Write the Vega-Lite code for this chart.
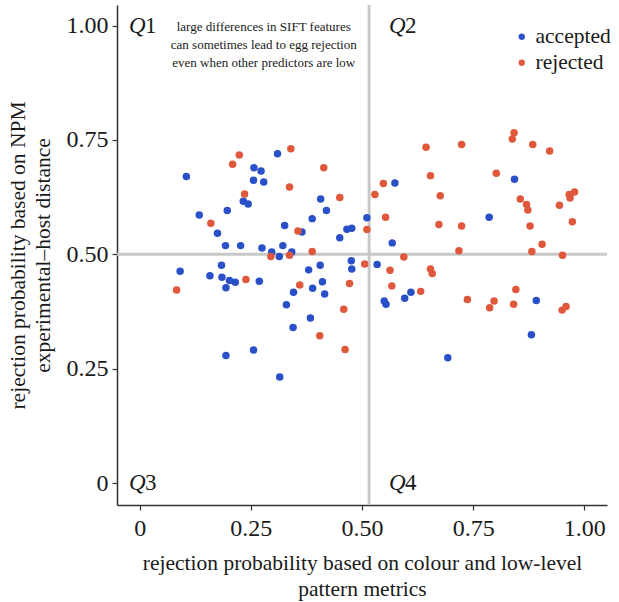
{
  "$schema": "https://vega.github.io/schema/vega-lite/v6.json",
  "autosize": "none",
  "width": 490,
  "height": 500,
  "padding": {"left": 117, "top": 5, "right": 12, "bottom": 97},
  "background": "white",
  "config": {
    "view": {"stroke": null},
    "font": "Liberation Serif",
    "axis": {"grid": false, "domainColor": "#333333", "domainWidth": 1.5, "tickColor": "#333333", "tickWidth": 1.2, "tickSize": 5, "labelFont": "Liberation Serif", "labelFontSize": 24, "labelColor": "#1a1a1a", "titleFont": "Liberation Serif", "titleFontSize": 21.5, "titleFontWeight": "normal", "titleColor": "#1a1a1a"}
  },
  "datasets": {
    "points": [
      {"x": 0.105, "y": 0.670, "status": "accepted"},
      {"x": 0.233, "y": 0.616, "status": "accepted"},
      {"x": 0.244, "y": 0.610, "status": "accepted"},
      {"x": 0.197, "y": 0.596, "status": "accepted"},
      {"x": 0.134, "y": 0.586, "status": "accepted"},
      {"x": 0.310, "y": 0.720, "status": "accepted"},
      {"x": 0.257, "y": 0.689, "status": "accepted"},
      {"x": 0.273, "y": 0.682, "status": "accepted"},
      {"x": 0.256, "y": 0.662, "status": "accepted"},
      {"x": 0.279, "y": 0.658, "status": "accepted"},
      {"x": 0.407, "y": 0.621, "status": "accepted"},
      {"x": 0.420, "y": 0.596, "status": "accepted"},
      {"x": 0.388, "y": 0.578, "status": "accepted"},
      {"x": 0.511, "y": 0.580, "status": "accepted"},
      {"x": 0.326, "y": 0.563, "status": "accepted"},
      {"x": 0.365, "y": 0.549, "status": "accepted"},
      {"x": 0.450, "y": 0.536, "status": "accepted"},
      {"x": 0.466, "y": 0.555, "status": "accepted"},
      {"x": 0.477, "y": 0.557, "status": "accepted"},
      {"x": 0.175, "y": 0.546, "status": "accepted"},
      {"x": 0.193, "y": 0.519, "status": "accepted"},
      {"x": 0.227, "y": 0.519, "status": "accepted"},
      {"x": 0.275, "y": 0.514, "status": "accepted"},
      {"x": 0.297, "y": 0.505, "status": "accepted"},
      {"x": 0.322, "y": 0.519, "status": "accepted"},
      {"x": 0.342, "y": 0.505, "status": "accepted"},
      {"x": 0.314, "y": 0.495, "status": "accepted"},
      {"x": 0.380, "y": 0.466, "status": "accepted"},
      {"x": 0.406, "y": 0.476, "status": "accepted"},
      {"x": 0.476, "y": 0.486, "status": "accepted"},
      {"x": 0.477, "y": 0.468, "status": "accepted"},
      {"x": 0.534, "y": 0.478, "status": "accepted"},
      {"x": 0.184, "y": 0.476, "status": "accepted"},
      {"x": 0.091, "y": 0.463, "status": "accepted"},
      {"x": 0.158, "y": 0.453, "status": "accepted"},
      {"x": 0.185, "y": 0.450, "status": "accepted"},
      {"x": 0.202, "y": 0.443, "status": "accepted"},
      {"x": 0.215, "y": 0.439, "status": "accepted"},
      {"x": 0.194, "y": 0.427, "status": "accepted"},
      {"x": 0.269, "y": 0.441, "status": "accepted"},
      {"x": 0.411, "y": 0.440, "status": "accepted"},
      {"x": 0.389, "y": 0.426, "status": "accepted"},
      {"x": 0.346, "y": 0.417, "status": "accepted"},
      {"x": 0.416, "y": 0.413, "status": "accepted"},
      {"x": 0.330, "y": 0.390, "status": "accepted"},
      {"x": 0.384, "y": 0.361, "status": "accepted"},
      {"x": 0.345, "y": 0.340, "status": "accepted"},
      {"x": 0.256, "y": 0.291, "status": "accepted"},
      {"x": 0.315, "y": 0.232, "status": "accepted"},
      {"x": 0.194, "y": 0.279, "status": "accepted"},
      {"x": 0.574, "y": 0.656, "status": "accepted"},
      {"x": 0.568, "y": 0.525, "status": "accepted"},
      {"x": 0.610, "y": 0.417, "status": "accepted"},
      {"x": 0.596, "y": 0.404, "status": "accepted"},
      {"x": 0.550, "y": 0.398, "status": "accepted"},
      {"x": 0.554, "y": 0.391, "status": "accepted"},
      {"x": 0.693, "y": 0.274, "status": "accepted"},
      {"x": 0.843, "y": 0.664, "status": "accepted"},
      {"x": 0.786, "y": 0.581, "status": "accepted"},
      {"x": 0.892, "y": 0.399, "status": "accepted"},
      {"x": 0.881, "y": 0.324, "status": "accepted"},
      {"x": 0.224, "y": 0.717, "status": "rejected"},
      {"x": 0.209, "y": 0.697, "status": "rejected"},
      {"x": 0.236, "y": 0.632, "status": "rejected"},
      {"x": 0.160, "y": 0.568, "status": "rejected"},
      {"x": 0.340, "y": 0.731, "status": "rejected"},
      {"x": 0.414, "y": 0.689, "status": "rejected"},
      {"x": 0.337, "y": 0.647, "status": "rejected"},
      {"x": 0.450, "y": 0.624, "status": "rejected"},
      {"x": 0.529, "y": 0.631, "status": "rejected"},
      {"x": 0.511, "y": 0.554, "status": "rejected"},
      {"x": 0.356, "y": 0.551, "status": "rejected"},
      {"x": 0.295, "y": 0.495, "status": "rejected"},
      {"x": 0.337, "y": 0.498, "status": "rejected"},
      {"x": 0.388, "y": 0.506, "status": "rejected"},
      {"x": 0.506, "y": 0.479, "status": "rejected"},
      {"x": 0.239, "y": 0.445, "status": "rejected"},
      {"x": 0.360, "y": 0.433, "status": "rejected"},
      {"x": 0.472, "y": 0.436, "status": "rejected"},
      {"x": 0.459, "y": 0.380, "status": "rejected"},
      {"x": 0.405, "y": 0.322, "status": "rejected"},
      {"x": 0.462, "y": 0.292, "status": "rejected"},
      {"x": 0.083, "y": 0.422, "status": "rejected"},
      {"x": 0.644, "y": 0.734, "status": "rejected"},
      {"x": 0.724, "y": 0.740, "status": "rejected"},
      {"x": 0.654, "y": 0.672, "status": "rejected"},
      {"x": 0.548, "y": 0.655, "status": "rejected"},
      {"x": 0.676, "y": 0.628, "status": "rejected"},
      {"x": 0.553, "y": 0.581, "status": "rejected"},
      {"x": 0.673, "y": 0.565, "status": "rejected"},
      {"x": 0.724, "y": 0.562, "status": "rejected"},
      {"x": 0.842, "y": 0.766, "status": "rejected"},
      {"x": 0.838, "y": 0.752, "status": "rejected"},
      {"x": 0.884, "y": 0.740, "status": "rejected"},
      {"x": 0.922, "y": 0.726, "status": "rejected"},
      {"x": 0.802, "y": 0.677, "status": "rejected"},
      {"x": 0.856, "y": 0.621, "status": "rejected"},
      {"x": 0.870, "y": 0.609, "status": "rejected"},
      {"x": 0.873, "y": 0.597, "status": "rejected"},
      {"x": 0.944, "y": 0.607, "status": "rejected"},
      {"x": 0.978, "y": 0.636, "status": "rejected"},
      {"x": 0.966, "y": 0.631, "status": "rejected"},
      {"x": 0.968, "y": 0.623, "status": "rejected"},
      {"x": 0.878, "y": 0.562, "status": "rejected"},
      {"x": 0.973, "y": 0.571, "status": "rejected"},
      {"x": 0.718, "y": 0.508, "status": "rejected"},
      {"x": 0.594, "y": 0.494, "status": "rejected"},
      {"x": 0.563, "y": 0.465, "status": "rejected"},
      {"x": 0.654, "y": 0.468, "status": "rejected"},
      {"x": 0.658, "y": 0.458, "status": "rejected"},
      {"x": 0.567, "y": 0.431, "status": "rejected"},
      {"x": 0.632, "y": 0.419, "status": "rejected"},
      {"x": 0.737, "y": 0.401, "status": "rejected"},
      {"x": 0.787, "y": 0.383, "status": "rejected"},
      {"x": 0.905, "y": 0.522, "status": "rejected"},
      {"x": 0.882, "y": 0.506, "status": "rejected"},
      {"x": 0.951, "y": 0.498, "status": "rejected"},
      {"x": 0.846, "y": 0.423, "status": "rejected"},
      {"x": 0.797, "y": 0.398, "status": "rejected"},
      {"x": 0.841, "y": 0.391, "status": "rejected"},
      {"x": 0.959, "y": 0.386, "status": "rejected"},
      {"x": 0.950, "y": 0.378, "status": "rejected"}
    ],
    "quadrants": [
      {"x": -0.024, "y": 1.0, "q": "Q", "n": "1"},
      {"x": 0.561, "y": 1.0, "q": "Q", "n": "2"},
      {"x": -0.024, "y": 0.0, "q": "Q", "n": "3"},
      {"x": 0.561, "y": 0.0, "q": "Q", "n": "4"}
    ],
    "note": [
      {"x": 0.279, "y": 0.996, "text": "large differences in SIFT features\ncan sometimes lead to egg rejection\neven when other predictors are low"}
    ],
    "one": [{}]
  },
  "layer": [
    {
      "data": {"name": "one"},
      "mark": {"type": "rule", "color": "#c8c8c8", "strokeWidth": 3},
      "encoding": {"x": {"datum": 0.516, "type": "quantitative", "scale": {"domain": [-0.051, 1.051], "nice": false, "zero": false}}}
    },
    {
      "data": {"name": "one"},
      "mark": {"type": "rule", "color": "#c8c8c8", "strokeWidth": 3},
      "encoding": {"y": {"datum": 0.5, "type": "quantitative", "scale": {"domain": [-0.048, 1.045], "nice": false, "zero": false}}}
    },
    {
      "data": {"name": "points"},
      "mark": {"type": "circle", "size": 56, "opacity": 1},
      "encoding": {
        "x": {"field": "x", "type": "quantitative",
              "scale": {"domain": [-0.051, 1.051], "nice": false, "zero": false},
              "axis": {"values": [0, 0.25, 0.5, 0.75, 1], "labelExpr": "datum.value == 0 ? '0' : format(datum.value, '.2f')", "labelPadding": 6, "labelFlush": false, "labelOverlap": false,
                       "title": ["rejection probability based on colour and low-level", "pattern metrics"], "titlePadding": 12, "titleLineHeight": 26}},
        "y": {"field": "y", "type": "quantitative",
              "scale": {"domain": [-0.048, 1.045], "nice": false, "zero": false},
              "axis": {"values": [0, 0.25, 0.5, 0.75, 1], "labelExpr": "datum.value == 0 ? '0' : format(datum.value, '.2f')", "labelPadding": 4, "labelFlush": false, "labelOverlap": false,
                       "title": ["rejection probability based on NPM", "experimental\u2013host distance"], "titlePadding": 12, "titleLineHeight": 25}},
        "color": {"field": "status", "type": "nominal",
                  "scale": {"domain": ["accepted", "rejected"], "range": ["#2a50c8", "#e0583c"]},
                  "legend": {"title": null, "orient": "none", "legendX": 394, "legendY": 21, "symbolType": "circle", "symbolSize": 40, "symbolOpacity": 1, "labelFont": "Liberation Serif", "labelFontSize": 21.5, "labelColor": "#1a1a1a", "rowPadding": 3, "padding": 0, "labelOffset": 3}}
      }
    },
    {
      "data": {"name": "quadrants"},
      "mark": {"type": "text", "align": "left", "baseline": "middle", "fontSize": 23, "fontStyle": "italic", "font": "Liberation Serif", "color": "#1a1a1a"},
      "encoding": {"x": {"field": "x", "type": "quantitative"}, "y": {"field": "y", "type": "quantitative"}, "text": {"field": "q"}}
    },
    {
      "data": {"name": "quadrants"},
      "mark": {"type": "text", "align": "left", "baseline": "middle", "fontSize": 23, "font": "Liberation Serif", "color": "#1a1a1a", "dx": 16},
      "encoding": {"x": {"field": "x", "type": "quantitative"}, "y": {"field": "y", "type": "quantitative"}, "text": {"field": "n"}}
    },
    {
      "data": {"name": "note"},
      "mark": {"type": "text", "align": "center", "baseline": "middle", "fontSize": 13, "font": "Liberation Serif", "color": "#1a1a1a", "lineBreak": "\n", "lineHeight": 18},
      "encoding": {"x": {"field": "x", "type": "quantitative"}, "y": {"field": "y", "type": "quantitative"}, "text": {"field": "text"}}
    }
  ]
}
